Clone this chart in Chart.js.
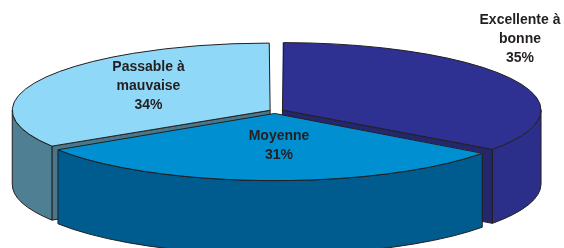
<!DOCTYPE html>
<html>
<head>
<meta charset="utf-8">
<script src="https://cdn.jsdelivr.net/npm/chart.js@4.4.1/dist/chart.umd.min.js"></script>
<style>
  html, body { margin: 0; padding: 0; background: #fff; }
</style>
</head>
<body>
<canvas id="qualiteChart" width="564" height="248"></canvas>
<script>
// données
const categories = ['Excellente à bonne', 'Moyenne', 'Passable à mauvaise'];
const labelLines = [['Excellente à', 'bonne'], ['Moyenne'], ['Passable à', 'mauvaise']];
const percentages = [35, 31, 34];

const topColors = ['#2e3192', '#0090d1', '#8fd8f7'];
const sideColors = ['#2c2f8a', '#005b8f', '#4f7f93'];
const cutColors = ['#24266e', '#004d7a', '#4a7789'];
const explode = [15, 17, 10];

// ellipse du dessus (px écran) et épaisseur du disque
const ellipse = { cx: 275, cy: 111, rx: 257, ry: 67, depth: 74 };
// centre de la première ligne de chaque étiquette
const labelAnchors = [[520, 20], [279, 136], [148.5, 67]];
const lineHeight = 19.3;
const outline = '#231f20';

function sliceGeometry(chart) {
    const meta = chart.getDatasetMeta(0);
    return meta.data.map((arc, i) => {
        const R = arc.outerRadius;
        const sx = ellipse.rx / R, sy = ellipse.ry / R;
        const o = (arc.options.offset || 0) / 4;
        const alpha = arc.endAngle - arc.startAngle;
        const half = (arc.startAngle + arc.endAngle) / 2;
        const fix = 1 - Math.sin(Math.min(Math.PI, alpha));
        const r = R + o * fix;
        const beta = Math.max(0.001, alpha * r - o / Math.PI) / r;
        const shrink = (alpha - beta) / 2;
        return {
            index: i,
            half: half,
            x: ellipse.cx + Math.cos(half) * o * sx,
            y: ellipse.cy + Math.sin(half) * o * sy,
            rx: r * sx,
            ry: r * sy,
            a1: arc.startAngle + shrink,
            a2: arc.endAngle - shrink
        };
    });
}

function drawCutFace(ctx, s, a, color) {
    const D = ellipse.depth;
    const px = s.x + s.rx * Math.cos(a), py = s.y + s.ry * Math.sin(a);
    ctx.beginPath();
    ctx.moveTo(s.x, s.y);
    ctx.lineTo(px, py);
    ctx.lineTo(px, py + D);
    ctx.lineTo(s.x, s.y + D);
    ctx.closePath();
    ctx.fillStyle = color;
    ctx.fill();
    ctx.stroke();
}

const pie3d = {
    id: 'pie3d',
    beforeDatasetsDraw(chart) {
        const ctx = chart.ctx;
        const D = ellipse.depth;
        const slices = sliceGeometry(chart).sort((p, q) => Math.sin(p.half) - Math.sin(q.half));

        ctx.save();
        ctx.strokeStyle = outline;
        ctx.lineWidth = 1;
        ctx.lineJoin = 'round';
        slices.forEach(s => {
            // faces de coupe visibles
            if (Math.cos(s.a1) < 0) drawCutFace(ctx, s, s.a1, cutColors[s.index]);
            if (Math.cos(s.a2) > 0) drawCutFace(ctx, s, s.a2, cutColors[s.index]);
            // flanc extérieur (partie avant seulement)
            const from = Math.max(s.a1, 0), to = Math.min(s.a2, Math.PI);
            if (to > from) {
                ctx.beginPath();
                ctx.ellipse(s.x, s.y, s.rx, s.ry, 0, from, to);
                ctx.ellipse(s.x, s.y + D, s.rx, s.ry, 0, to, from, true);
                ctx.closePath();
                ctx.fillStyle = sideColors[s.index];
                ctx.fill();
                ctx.stroke();
            }
        });
        ctx.restore();

        // aplatissement du camembert pour le dessus
        const arc0 = chart.getDatasetMeta(0).data[0];
        const R = arc0.outerRadius;
        ctx.save();
        ctx.translate(ellipse.cx, ellipse.cy);
        ctx.scale(ellipse.rx / R, ellipse.ry / R);
        ctx.translate(-arc0.x, -arc0.y);
    },
    afterDatasetsDraw(chart) {
        const ctx = chart.ctx;
        ctx.restore();

        ctx.save();
        ctx.strokeStyle = outline;
        ctx.lineWidth = 1;
        ctx.lineJoin = 'round';
        sliceGeometry(chart).forEach(s => {
            ctx.beginPath();
            ctx.moveTo(s.x, s.y);
            ctx.ellipse(s.x, s.y, s.rx, s.ry, 0, s.a1, s.a2);
            ctx.closePath();
            ctx.stroke();
        });

        ctx.fillStyle = '#231f20';
        ctx.font = 'bold 14px "Liberation Sans", Arial, sans-serif';
        ctx.textAlign = 'center';
        ctx.textBaseline = 'middle';
        labelLines.forEach((lines, i) => {
            const [lx, ly] = labelAnchors[i];
            const all = lines.concat([percentages[i] + '%']);
            all.forEach((t, k) => ctx.fillText(t, lx, ly + k * lineHeight));
        });
        ctx.restore();
    }
};

const chart = new Chart(document.getElementById('qualiteChart'), {
    type: 'pie',
    data: {
        labels: categories,
        datasets: [{
            data: percentages,
            backgroundColor: topColors,
            borderWidth: 0,
            offset: explode,
            clip: false
        }]
    },
    options: {
        responsive: false,
        animation: false,
        events: [],
        layout: { padding: 0 },
        plugins: {
            legend: { display: false },
            tooltip: { enabled: false }
        }
    },
    plugins: [pie3d]
});
</script>
</body>
</html>
